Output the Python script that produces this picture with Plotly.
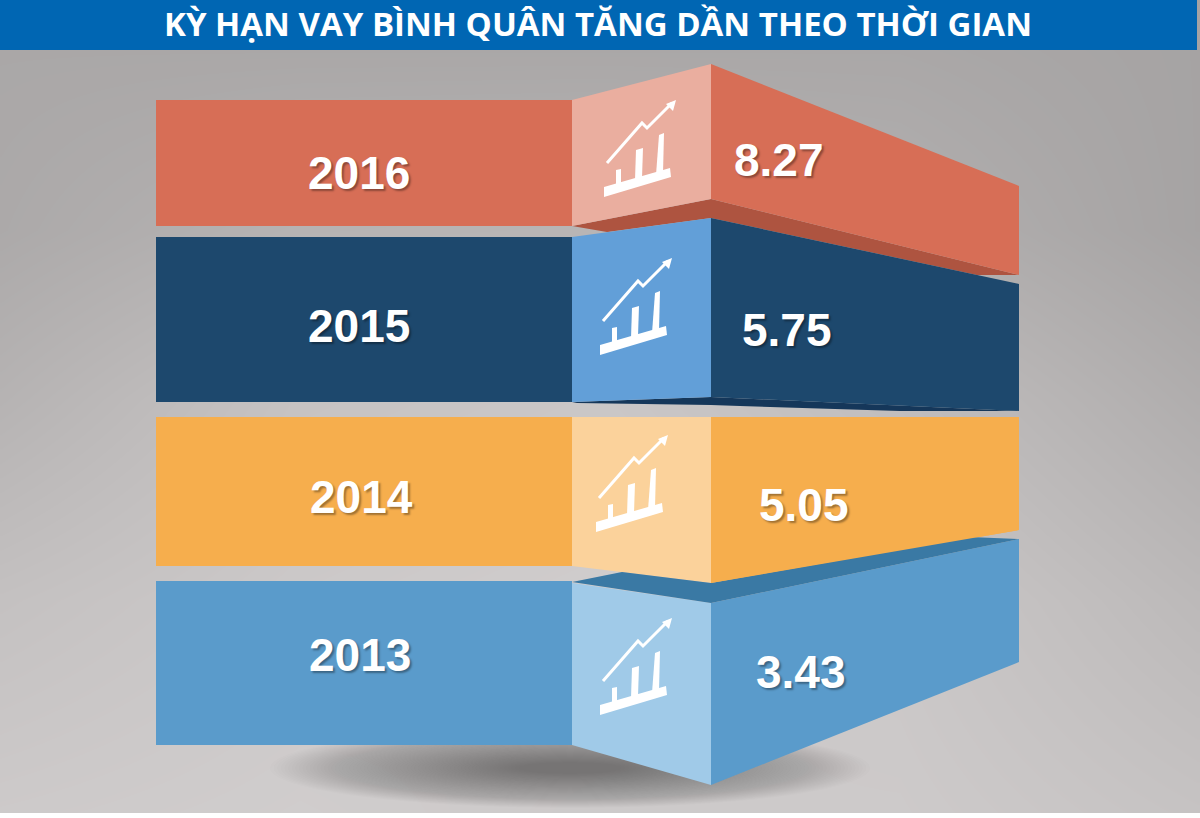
import plotly.graph_objects as go

TITLE = "KỲ HẠN VAY BÌNH QUÂN TĂNG DẦN THEO THỜI GIAN"
years = ["2016", "2015", "2014", "2013"]
values = ["8.27", "5.75", "5.05", "3.43"]

face_colors = ["#d76e56", "#1d486d", "#f6ae4d", "#5a9bcb"]
panel_colors = ["#eaae9f", "#629fd8", "#fbd29b", "#a0cae8"]
edge_colors = ["#ae5440", "#15375a", None, "#3a79a4"]

# outline of each band, in pixels of the 1200x818 page
left_faces = [
    [(156, 100), (572, 100), (572, 226), (156, 226)],
    [(156, 237), (572, 237), (572, 402), (156, 402)],
    [(156, 417), (572, 417), (572, 566), (156, 566)],
    [(156, 581), (572, 581), (572, 745), (156, 745)],
]
panels = [
    [(572, 100), (711, 64), (711, 199), (572, 226)],
    [(572, 237), (711, 218), (711, 397), (572, 402)],
    [(572, 417), (711, 417), (711, 583), (572, 566)],
    [(572, 583), (711, 603), (711, 785), (572, 745)],
]
right_faces = [
    [(711, 64), (1019, 186), (1019, 275), (711, 199)],
    [(711, 218), (1019, 284), (1019, 411), (711, 397)],
    [(711, 417), (1019, 417), (1019, 530), (711, 583)],
    [(711, 603), (1019, 539), (1019, 662), (711, 785)],
]
edges = [
    [(572, 226), (711, 199), (1019, 275), (977, 275), (711, 218), (607, 232)],
    [(572, 402), (711, 397), (1019, 411), (900, 411), (740, 406), (711, 405), (577, 403)],
    None,
    [(572, 582), (622, 572), (711, 583), (970, 537), (1019, 539), (711, 603)],
]

year_pos = [(359, 173), (359, 326), (361, 497), (360, 655)]
value_pos = [(779, 160), (787, 330), (804, 505), (801, 672)]
icon_offset = [(0, 0), (-4, 158), (-8, 335), (-4, 518)]

# icon as drawn on the 2016 panel
icon_base = [(604, 187), (670, 168), (671, 177), (604, 197)]
icon_bars = [
    [(616, 170), (621, 169), (621, 184), (616, 185)],
    [(636, 150), (643, 148), (642, 178), (635, 180)],
    [(659, 135), (664, 133), (663, 173), (656, 175)],
]
icon_line = [(607, 163), (642, 123), (647, 128), (672, 103)]
icon_arrow = [(676, 100), (666, 104), (673, 111)]

# backdrop greys, read at a coarse grid
bg_x = [1, 300, 600, 900, 1197]
bg_y = [50, 230, 400, 600, 813]
bg_z = [
    [170, 170, 170, 170, 166],
    [172, 182, 184, 178, 166],
    [182, 198, 202, 192, 176],
    [196, 204, 208, 202, 188],
    [205, 208, 205, 205, 198],
]


def poly(points, color):
    path = "M" + " L".join("%s,%s" % p for p in points) + " Z"
    return dict(type="path", path=path, fillcolor=color, line=dict(width=0), layer="above")


def moved(points, off):
    return [(x + off[0], y + off[1]) for x, y in points]


fig = go.Figure(go.Heatmap(x=bg_x, y=bg_y, z=bg_z, zmin=0, zmax=255, zsmooth="best",
                           colorscale=[[0, "#000000"], [1, "#fffbfb"]], showscale=False,
                           hoverinfo="skip"))

shapes = []
# soft shadow under the stack
for i in range(70):
    rx = 300 - i * 3.6
    ry = 40 - i * 0.5
    shapes.append(dict(type="circle", x0=570 - rx, x1=570 + rx, y0=768 - ry, y1=768 + ry,
                       fillcolor="rgba(50,50,50,0.011)", line=dict(width=0), layer="above"))
shapes.append(poly([(0, 813), (1200, 813), (1200, 818), (0, 818)], "#ffffff"))
shapes.append(poly([(0, 0), (1197, 0), (1197, 50), (0, 50)], "#0066b3"))

for i in range(len(years)):
    shapes.append(poly(left_faces[i], face_colors[i]))
    if i != 3 and edges[i]:
        shapes.append(poly(edges[i], edge_colors[i]))
    shapes.append(poly(right_faces[i], face_colors[i]))
    shapes.append(poly(panels[i], panel_colors[i]))
    if i == 3:
        shapes.append(poly(edges[i], edge_colors[i]))
    off = icon_offset[i]
    shapes.append(poly(moved(icon_base, off), "#ffffff"))
    for bar in icon_bars:
        shapes.append(poly(moved(bar, off), "#ffffff"))
    line_path = "M" + " L".join("%s,%s" % p for p in moved(icon_line, off))
    shapes.append(dict(type="path", path=line_path, line=dict(color="#ffffff", width=3), layer="above"))
    shapes.append(poly(moved(icon_arrow, off), "#ffffff"))

# band 2014 sits over the 2013 top edge
shapes.append(poly(right_faces[2], face_colors[2]))

annotations = [dict(x=598, y=23, text="<b>%s</b>" % TITLE, showarrow=False, xref="x", yref="y",
                    font=dict(family="Open Sans", size=33, color="#ffffff"))]
label_font = dict(family="Liberation Sans", size=46, color="#ffffff",
                  shadow="2px 2px 2px rgba(0,0,0,0.35)")
for i in range(len(years)):
    annotations.append(dict(x=year_pos[i][0], y=year_pos[i][1], text="<b>%s</b>" % years[i],
                            showarrow=False, xref="x", yref="y", font=label_font))
    annotations.append(dict(x=value_pos[i][0], y=value_pos[i][1], text="<b>%s</b>" % values[i],
                            showarrow=False, xref="x", yref="y", font=label_font))

fig.update_layout(width=1200, height=818, margin=dict(l=0, r=0, t=0, b=0),
                  paper_bgcolor="#ffffff", plot_bgcolor="#ffffff", showlegend=False,
                  shapes=shapes, annotations=annotations,
                  xaxis=dict(range=[0, 1200], visible=False, fixedrange=True),
                  yaxis=dict(range=[818, 0], visible=False, fixedrange=True))
# page has a default 8px body margin, drop it so the figure fills the window
fig.write_html("out.html", config=dict(displayModeBar=False),
               post_script="document.body.style.margin='0';document.body.style.overflow='hidden';")
